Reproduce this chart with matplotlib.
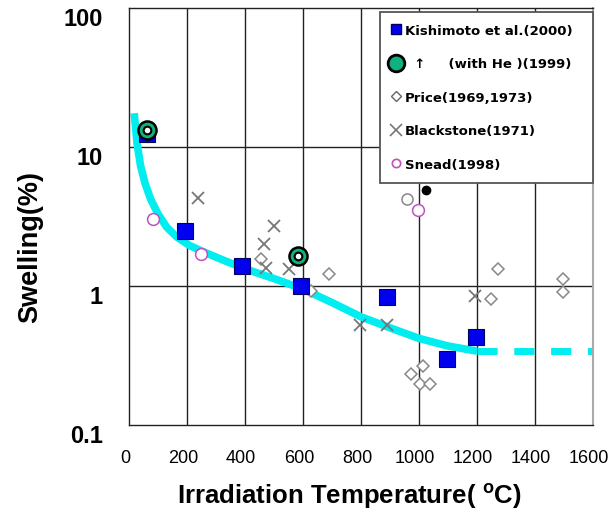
import matplotlib
matplotlib.use("Agg")
import matplotlib.pyplot as plt
from matplotlib.lines import Line2D
from matplotlib.transforms import ScaledTranslation

plt.rcParams['font.family'] = ['Liberation Sans', 'DejaVu Sans']
plt.rcParams['mathtext.default'] = 'regular'

# swelling data (temperature in C, swelling in %)
kishimoto_t = [62, 192, 390, 594, 891, 1095, 1196]
kishimoto_s = [12.4, 2.5, 1.40, 1.0, 0.83, 0.30, 0.43]

he_t = [62, 584]
he_s = [13.3, 1.64]

price_t = [456, 629, 688, 1272, 1247, 1496, 1496, 1013, 974, 1002, 1037]
price_s = [1.56, 0.92, 1.22, 1.33, 0.81, 1.12, 0.905, 0.266, 0.233, 0.197, 0.197]
price_open_t = [957]
price_open_s = [4.2]

black_t = [238, 501, 466, 473, 553, 795, 891, 1192]
black_s = [4.3, 2.7, 2.0, 1.35, 1.33, 0.52, 0.52, 0.85]

snead_t = [83, 249, 995]
snead_s = [3.04, 1.70, 3.52]

dot_t = [1023]
dot_s = [4.9]

# trend curve, solid part then extrapolated dashed part
trend_t = [18, 28, 40, 55, 75, 100, 130, 165, 210, 260, 320, 400, 500, 600, 700, 800, 900, 1000, 1100, 1200]
trend_s = [17.5, 10.5, 7.3, 5.5, 4.2, 3.3, 2.65, 2.25, 1.95, 1.75, 1.55, 1.33, 1.13, 0.95, 0.76, 0.6, 0.5, 0.42, 0.37, 0.34]
dash_t = [1200, 1600]
dash_s = [0.34, 0.34]

cyan = '#00eef0'

fig = plt.figure(figsize=(6.16, 5.10), dpi=100)
ax = fig.add_axes([129/616, 1-426/510, 464/616, 417/510])
ax.set_yscale('log')
ax.set_xlim(0, 1600)
ax.set_ylim(0.1, 100)

for xv in range(200, 1600, 200):
    ax.axvline(xv, color='#222222', lw=1.0, zorder=1)
for yv in [1, 10]:
    ax.axhline(yv, color='#222222', lw=1.0, zorder=1)

ax.plot(trend_t, trend_s, color=cyan, lw=5.5, solid_capstyle='butt', zorder=2)
ax.plot(dash_t, dash_s, color=cyan, lw=5, dashes=(2.9, 2.4), dash_capstyle='butt', zorder=2)

ax.plot(price_t, price_s, 'D', ms=6.5, mfc='white', mec='#888888', mew=1.1, zorder=3)
ax.plot(price_open_t, price_open_s, 'o', ms=8, mfc='white', mec='#888888', mew=1.1, zorder=3)
ax.plot(black_t, black_s, 'x', ms=9, mec='#777777', mew=1.3, zorder=3)
ax.plot(snead_t, snead_s, 'o', ms=8.5, mfc='white', mec='#c050c0', mew=1.1, zorder=3)
ax.plot(dot_t, dot_s, 'o', ms=6, color='black', zorder=3)
ax.plot(kishimoto_t, kishimoto_s, 's', ms=11, mfc='#0000ee', mec='#000060', mew=0.8, zorder=4)
ax.plot(he_t, he_s, 'o', ms=13, mfc='#10b080', mec='black', mew=1.8, zorder=5)
ax.plot(he_t, he_s, 'o', ms=5.5, mfc='white', mec='black', mew=1.5, zorder=6)

ax.set_yticks([0.1, 1, 10, 100])
ax.set_yticklabels(['0.1', '1', '10', '100'], fontsize=17, fontweight='bold')
ax.set_xticks(range(0, 1601, 200))
ax.set_xticklabels([str(v) for v in range(0, 1601, 200)], fontsize=13)
ax.minorticks_off()
ax.tick_params(axis='y', length=0, pad=19)
ax.tick_params(axis='x', length=0, pad=17)
for lab in ax.get_yticklabels():
    lab.set_transform(lab.get_transform() + ScaledTranslation(0, -0.08, fig.dpi_scale_trans))
for lab in ax.get_xticklabels():
    lab.set_transform(lab.get_transform() + ScaledTranslation(-0.04, 0, fig.dpi_scale_trans))

for s in ['left', 'bottom', 'top']:
    ax.spines[s].set_color('#222222')
    ax.spines[s].set_linewidth(1.0)
ax.spines['right'].set_color('#aaaaaa')
ax.spines['right'].set_linewidth(1.5)

ax.set_ylabel('Swelling(%)', fontsize=19.5, fontweight='bold')
ax.yaxis.set_label_coords(-0.185, 0.43)
ax.set_xlabel(r'Irradiation Temperature( $^{o}$C)', fontsize=18.5, fontweight='bold')
ax.xaxis.set_label_coords(0.474, -0.134)

handles = [
    Line2D([], [], ls='none', marker='s', ms=7, mfc='#0000ee', mec='#000060'),
    Line2D([], [], ls='none', marker='o', ms=12, mfc='#10b080', mec='black', mew=2),
    Line2D([], [], ls='none', marker='D', ms=5, mfc='white', mec='#666666'),
    Line2D([], [], ls='none', marker='x', ms=8, mec='#777777', mew=1.2),
    Line2D([], [], ls='none', marker='o', ms=6, mfc='white', mec='#c050c0', mew=1.2),
]
labels = ['Kishimoto et al.(2000)', '  \u2191     (with He )(1999)', 'Price(1969,1973)',
          'Blackstone(1971)', 'Snead(1998)']
leg = ax.legend(handles, labels, loc='upper left', mode='expand',
                bbox_to_anchor=(380/616, 1-183/510, 213/616, 170/510),
                bbox_transform=fig.transFigure,
                prop={'family': 'DejaVu Sans', 'weight': 'bold', 'size': 9.5},
                fancybox=False, framealpha=1, edgecolor='#555555',
                handlelength=0.7, handletextpad=0.3, labelspacing=1.55,
                borderpad=0.9, borderaxespad=0)
leg.get_frame().set_linewidth(1.3)
leg.set_zorder(10)

fig.savefig('out.png', dpi=100)
